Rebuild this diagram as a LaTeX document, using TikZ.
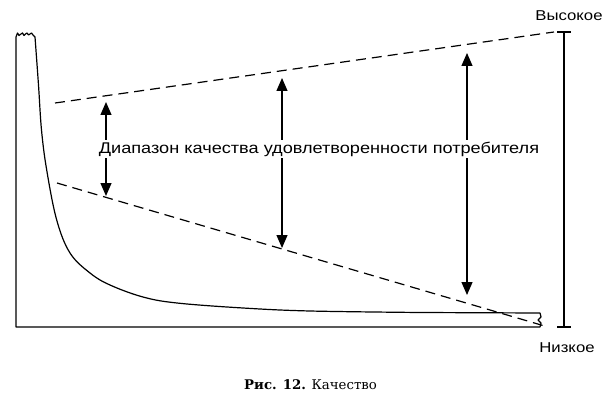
\documentclass[tikz,border=0pt]{standalone}
\usepackage{fontspec}
\setmainfont{DejaVu Serif}
\newfontfamily\labfont[FakeStretch=1.17]{Liberation Sans}
\usetikzlibrary{arrows.meta}
\tikzset{
  outline/.style={line width=1.2pt, line join=round},
  dashline/.style={line width=1.2pt, dash pattern=on 10pt off 6pt},
  rangearrow/.style={line width=1.2pt, {Triangle[width=11pt,length=13pt]}-{Triangle[width=11pt,length=13pt]}},
  scalebar/.style={line width=1.2pt},
  lab/.style={font=\labfont\fontsize{14.3}{16}\selectfont, inner sep=0pt},
  mainlab/.style={font=\labfont\fontsize{15.5}{18}\selectfont, fill=white, inner sep=2pt},
  captext/.style={font=\fontsize{13.3}{15}\selectfont, inner sep=0pt}
}
\begin{document}
\begin{tikzpicture}[x=1pt,y=-1pt]
\useasboundingbox (0,0) rectangle (610,401);
% outline of the curve area
\draw[outline] (16,37) -- (16,327) -- (540,327) -- (541,323) -- (538,320) -- (541,317) -- (540,313)
  -- (420,312.5)
  plot[smooth, tension=0.6] coordinates {(420,312.5) (310,311) (243,308) (177,303) (143,297) (110,285) (90,273) (70,253) (56.7,220) (46.7,170) (41.5,130) (38.5,85) (35,37)}
  -- (33,35) -- (31.5,33) -- (30,34) -- (28.5,35) -- (27,33) -- (25.5,34) -- (24,35.5) -- (22.5,33) -- (21,34) -- (19,35.5) -- (17.5,33) -- (16,37);
% dashed lines
\coordinate (uA) at (55,103);
\coordinate (uB) at (554,32);
\coordinate (lA) at (57,183);
\coordinate (lB) at (548,327);
\draw[dashline] (uA) -- (uB);
\draw[dashline] (lA) -- (lB);
% range arrows
\coordinate (a1t) at (106,102);
\coordinate (a1b) at (106,196);
\coordinate (a2t) at (282,78);
\coordinate (a2b) at (282,248);
\coordinate (a3t) at (467,53);
\coordinate (a3b) at (467,295);
\draw[rangearrow] (a1b) -- (a1t);
\draw[rangearrow] (a2b) -- (a2t);
\draw[rangearrow] (a3b) -- (a3t);
\node[mainlab] (range) at (319,149) {Диапазон качества удовлетворенности потребителя};
% scale bar
\coordinate (sT) at (564,32);
\coordinate (sB) at (564,327);
\draw[scalebar] (sT) -- (sB);
\draw[scalebar] ([xshift=-7pt]sT) -- ([xshift=7pt]sT);
\draw[scalebar] ([xshift=-7pt]sB) -- ([xshift=7pt]sB);
\node[lab] (high) at (569,16) {Высокое};
\node[lab] (low) at (567,348) {Низкое};
% caption
\node[captext] (caption) at (310.5,385) {\textbf{Рис. 12.} Качество};
\end{tikzpicture}
\end{document}
